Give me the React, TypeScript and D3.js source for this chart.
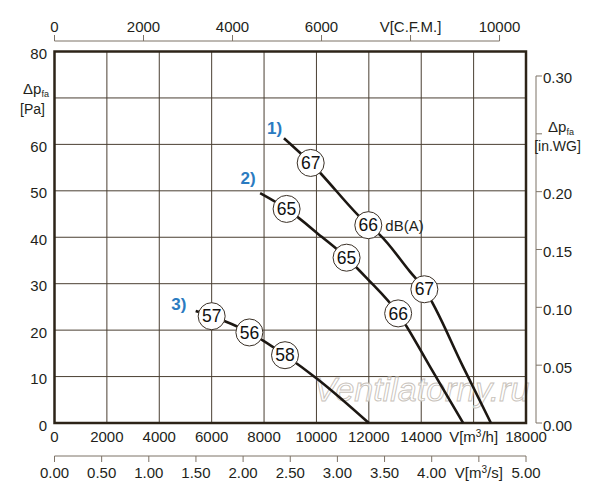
import React from "react";
import * as d3 from "d3";

// flow in m3/h, pressure in Pa
const curve1 = [
  [8760, 61.3], [9780, 56.0], [11980, 42.6], [12420, 40.5],
  [13570, 32.6], [14120, 28.8], [15600, 12.1], [16660, 0],
];
const curve2 = [
  [7850, 49.5], [8860, 46.1], [10200, 40.1], [11150, 35.6],
  [11920, 31.2], [13120, 23.6], [14340, 12.1], [15600, 0],
];
const curve3 = [
  [5390, 24.1], [6000, 23.0], [7440, 19.5], [8800, 14.6],
  [10010, 9.6], [12000, 0],
];
const curves = [curve1, curve2, curve3];

// noise levels dB(A) on the curves
const noiseMarks = [
  {q: 9780, p: 56.0, db: "67"},
  {q: 11980, p: 42.6, db: "66"},
  {q: 14120, p: 28.8, db: "67"},
  {q: 8860, p: 46.1, db: "65"},
  {q: 11150, p: 35.6, db: "65"},
  {q: 13120, p: 23.6, db: "66"},
  {q: 6000, p: 23.0, db: "57"},
  {q: 7440, p: 19.5, db: "56"},
  {q: 8800, p: 14.6, db: "58"},
];

const curveNames = [
  {q: 8400, p: 63.7, name: "1)"},
  {q: 7390, p: 52.8, name: "2)"},
  {q: 4750, p: 25.8, name: "3)"},
];

const flowTicks = [0, 2000, 4000, 6000, 8000, 10000, 12000, 14000, 16000, 18000];
const pressureTicks = [0, 10, 20, 30, 40, 50, 60, 70, 80];
const cfmTicks = [0, 2000, 4000, 6000, 8000, 10000];
const m3sTicks = [0, 0.5, 1, 1.5, 2, 2.5, 3, 3.5, 4, 4.5, 5];
const inwgTicks = [0, 0.05, 0.1, 0.15, 0.2, 0.25, 0.3];

const CFM = 1.69901; // m3/h per cfm
const INWG = 249.089; // Pa per in.WG

const FONT = "'Liberation Sans', Arial, sans-serif";
const TEXT = "#231f1a";
const FRAME = "#2d2418";
const GRID = "#4a3f32";
const AXIS = "#7d7367";

export default function App() {
  const x = d3.scaleLinear().domain([0, 18000]).range([54.5, 526]);
  const y = d3.scaleLinear().domain([0, 80]).range([423, 51.5]);
  const xCfm = d3.scaleLinear().domain([0, 10000]).range([x(0), x(10000 * CFM)]);
  const xM3s = d3.scaleLinear().domain([0, 5]).range([x(0), x(18000)]);
  const yIn = d3.scaleLinear().domain([0, 0.3]).range([y(0), y(0.3 * INWG)]);

  const line = d3
    .line<number[]>()
    .x((d) => x(d[0]))
    .y((d) => y(d[1]))
    .curve(d3.curveMonotoneX);

  const rightX = 536;

  return (
    <svg
      width={600}
      height={500}
      style={{position: "absolute", left: 0, top: 0, background: "#fff"}}
      fontFamily={FONT}
    >
      <rect width={600} height={500} fill="#fff" />

      {/* grid */}
      {flowTicks.slice(1, -1).map((t) => (
        <line key={"gx" + t} x1={x(t)} x2={x(t)} y1={y(0)} y2={y(80)} stroke={GRID} strokeWidth={1} />
      ))}
      {pressureTicks.slice(1, -1).map((t) => (
        <line key={"gy" + t} x1={x(0)} x2={x(18000)} y1={y(t)} y2={y(t)} stroke={GRID} strokeWidth={1} />
      ))}

      {/* watermark */}
      <text
        x={314}
        y={401}
        fontSize={34}
        fontStyle="italic"
        fill="#fff"
        fillOpacity={0.8}
        stroke="#c8c2ba"
        strokeWidth={0.9}
      >
        Ventilatorny.ru
      </text>

      {/* frame */}
      <rect
        x={x(0)}
        y={y(80)}
        width={x(18000) - x(0)}
        height={y(0) - y(80)}
        fill="none"
        stroke={FRAME}
        strokeWidth={2.5}
      />

      {/* left axis labels */}
      {pressureTicks
        .filter((t) => t !== 70)
        .map((t) => (
          <text key={"ly" + t} x={47} y={y(t) + 7.5} fontSize={15} textAnchor="end" fill={TEXT}>
            {t}
          </text>
        ))}
      <text x={23} y={93.5} fontSize={15} fill={TEXT}>
        Δp<tspan fontSize={9} dy={3}>fa</tspan>
      </text>
      <text x={45} y={114} fontSize={14} textAnchor="end" fill={TEXT}>
        [Pa]
      </text>

      {/* bottom m3/h labels */}
      {flowTicks.map((t) => (
        <text key={"bx" + t} x={x(t)} y={441.5} fontSize={15} textAnchor="middle" fill={TEXT}>
          {t === 16000 ? (
            <>
              V[m<tspan fontSize={10} dy={-5}>3</tspan>
              <tspan dy={5}>/h]</tspan>
            </>
          ) : (
            t
          )}
        </text>
      ))}

      {/* top CFM axis */}
      <line x1={xCfm(0)} x2={xCfm(10000)} y1={41} y2={41} stroke={AXIS} strokeWidth={1} />
      {cfmTicks.map((t) => (
        <g key={"cfm" + t}>
          <line x1={xCfm(t)} x2={xCfm(t)} y1={35} y2={41} stroke={AXIS} strokeWidth={1} />
          <text x={xCfm(t)} y={32} fontSize={15} textAnchor="middle" fill={TEXT}>
            {t === 8000 ? "V[C.F.M.]" : t}
          </text>
        </g>
      ))}

      {/* bottom m3/s axis */}
      <line x1={xM3s(0)} x2={xM3s(5)} y1={456} y2={456} stroke={AXIS} strokeWidth={1} />
      {m3sTicks.map((t) => (
        <g key={"ms" + t}>
          <line x1={xM3s(t)} x2={xM3s(t)} y1={456} y2={462} stroke={AXIS} strokeWidth={1} />
          <text x={xM3s(t)} y={477.5} fontSize={15} textAnchor="middle" fill={TEXT}>
            {t === 4.5 ? (
              <>
                V[m<tspan fontSize={10} dy={-5}>3</tspan>
                <tspan dy={5}>/s]</tspan>
              </>
            ) : (
              t.toFixed(2)
            )}
          </text>
        </g>
      ))}

      {/* right in.WG axis */}
      <line x1={rightX} x2={rightX} y1={yIn(0)} y2={yIn(0.3)} stroke={AXIS} strokeWidth={1} />
      {inwgTicks.map((t) => (
        <g key={"in" + t}>
          <line x1={rightX} x2={rightX + 6} y1={yIn(t)} y2={yIn(t)} stroke={AXIS} strokeWidth={1} />
          {t !== 0.25 && (
            <text x={rightX + 7} y={yIn(t) + 7.5} fontSize={15} fill={TEXT}>
              {t.toFixed(2)}
            </text>
          )}
        </g>
      ))}
      <text x={548} y={132} fontSize={15} fill={TEXT}>
        Δp<tspan fontSize={9} dy={2.5}>fa</tspan>
      </text>
      <text x={557.5} y={150.5} fontSize={14} textAnchor="middle" fill={TEXT}>
        [in.WG]
      </text>

      {/* curves */}
      {curves.map((c, i) => (
        <path key={"c" + i} d={line(c) || ""} fill="none" stroke="#1c1712" strokeWidth={2.6} />
      ))}

      {/* noise circles */}
      {noiseMarks.map((m, i) => (
        <g key={"n" + i} transform={`translate(${x(m.q)},${y(m.p)})`}>
          <circle r={13.5} fill="#fff" stroke="#3a3026" strokeWidth={1} />
          <text y={6.2} fontSize={17.5} textAnchor="middle" fill="#111">
            {m.db}
          </text>
        </g>
      ))}
      <text x={x(11980) + 17} y={y(42.6) + 5.5} fontSize={15} fill={TEXT}>
        dB(A)
      </text>

      {/* curve names */}
      {curveNames.map((c) => (
        <text
          key={c.name}
          x={x(c.q)}
          y={y(c.p) + 6.5}
          fontSize={17}
          fontWeight="bold"
          textAnchor="middle"
          fill="#2b7bc1"
        >
          {c.name}
        </text>
      ))}
    </svg>
  );
}
